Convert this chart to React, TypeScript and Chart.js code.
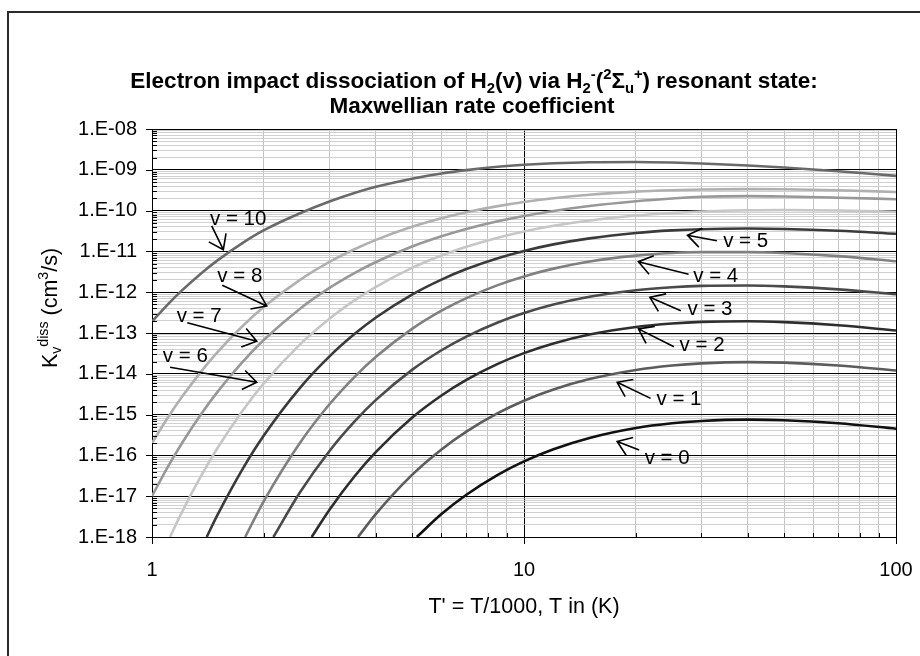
import { useEffect, useRef } from 'react';
import { Chart, registerables } from 'chart.js';

Chart.register(...registerables);

const FONT = '"Liberation Sans", Arial, Helvetica, sans-serif';

// ---- Data: T' (= T/1000) and Maxwellian rate coefficient K (cm^3/s) per vibrational level ----
const T_v0 = [5.15, 6, 7, 8.5, 10, 12, 15, 20, 25, 30, 40, 50, 70, 100];
const K_v0 = [1.0e-18, 3.65e-18, 1.084e-17, 3.34e-17, 7.13e-17, 1.416e-16, 2.68e-16, 4.69e-16, 6.12e-16, 6.98e-16, 7.53e-16, 7.29e-16, 6.15e-16, 4.51e-16];

const T_v1 = [3.58, 4, 5, 6, 7, 8.5, 10, 12, 15, 20, 25, 30, 40, 50, 70, 100];
const K_v1 = [1.0e-18, 3.69e-18, 3.33e-17, 1.403e-16, 3.84e-16, 1.084e-15, 2.19e-15, 4.12e-15, 7.43e-15, 1.245e-14, 1.596e-14, 1.8e-14, 1.93e-14, 1.875e-14, 1.6e-14, 1.2e-14];

const T_v2 = [2.687, 3, 3.5, 4, 5, 6, 7, 8.5, 10, 12, 15, 20, 25, 30, 40, 50, 70, 100];
const K_v2 = [1.0e-18, 4.67e-18, 3.04e-17, 1.225e-16, 8.38e-16, 2.94e-15, 7.1e-15, 1.75e-14, 3.21e-14, 5.53e-14, 9.14e-14, 1.406e-13, 1.714e-13, 1.875e-13, 1.941e-13, 1.845e-13, 1.545e-13, 1.148e-13];

const T_v3 = [2.12, 2.5, 3, 3.5, 4, 5, 6, 7, 8.5, 10, 12, 15, 20, 25, 30, 40, 50, 70, 100];
const K_v3 = [1.0e-18, 1.25e-17, 1.285e-16, 6.71e-16, 2.29e-15, 1.25e-14, 3.78e-14, 8.18e-14, 1.807e-13, 3.08e-13, 4.97e-13, 7.71e-13, 1.12e-12, 1.324e-12, 1.429e-12, 1.459e-12, 1.387e-12, 1.175e-12, 8.91e-13];

const T_v4 = [1.78, 2, 2.5, 3, 3.5, 4, 5, 6, 7, 8.5, 10, 12, 15, 20, 25, 30, 40, 50, 70, 100];
const K_v4 = [1.0e-18, 7.67e-18, 2.04e-16, 1.79e-15, 8.32e-15, 2.61e-14, 1.259e-13, 3.52e-13, 7.18e-13, 1.493e-12, 2.44e-12, 3.78e-12, 5.64e-12, 7.87e-12, 9.12e-12, 9.68e-12, 9.7e-12, 9.12e-12, 7.64e-12, 5.75e-12];

const T_v5 = [1.403, 1.5, 1.75, 2, 2.5, 3, 3.5, 4, 5, 6, 7, 8.5, 10, 12, 15, 20, 25, 30, 40, 50, 70, 100];
const K_v5 = [1.0e-18, 3.48e-18, 4.55e-17, 3.11e-16, 4.53e-15, 2.67e-14, 9.4e-14, 2.4e-13, 8.75e-13, 2.04e-12, 3.69e-12, 6.79e-12, 1.026e-11, 1.486e-11, 2.09e-11, 2.83e-11, 3.27e-11, 3.5e-11, 3.63e-11, 3.55e-11, 3.21e-11, 2.7e-11];

const T_v6 = [1.118, 1.2, 1.35, 1.5, 1.75, 2, 2.5, 3, 3.5, 4, 5, 6, 7, 8.5, 10, 12, 15, 20, 25, 30, 40, 50, 70, 100];
const K_v6 = [1.0e-18, 3.85e-18, 2.96e-17, 1.514e-16, 1.227e-15, 5.89e-15, 5.25e-14, 2.24e-13, 6.28e-13, 1.355e-12, 3.94e-12, 7.93e-12, 1.3e-11, 2.17e-11, 3.08e-11, 4.24e-11, 5.74e-11, 7.59e-11, 8.75e-11, 9.48e-11, 1.019e-10, 1.035e-10, 1.009e-10, 9.33e-11];

const T_v7 = [1, 1.1, 1.2, 1.35, 1.5, 1.75, 2, 2.5, 3, 3.5, 4, 5, 6, 7, 8.5, 10, 12, 15, 20, 25, 30, 40, 50, 70, 100];
const K_v7 = [1.007e-17, 5.01e-17, 1.905e-16, 9.77e-16, 3.61e-15, 1.93e-14, 6.81e-14, 3.95e-13, 1.276e-12, 2.94e-12, 5.5e-12, 1.315e-11, 2.35e-11, 3.55e-11, 5.47e-11, 7.38e-11, 9.79e-11, 1.291e-10, 1.69e-10, 1.977e-10, 2.18e-10, 2.26e-10, 2.21e-10, 2.07e-10, 1.905e-10];

const T_v8 = [1, 1.1, 1.2, 1.35, 1.5, 1.75, 2, 2.5, 3, 3.5, 4, 5, 6, 7, 8.5, 10, 12, 15, 20, 25, 30, 40, 50, 70, 100];
const K_v8 = [2.0e-16, 8.11e-16, 2.61e-15, 1.086e-14, 3.39e-14, 1.462e-13, 4.37e-13, 2.0e-12, 5.51e-12, 1.127e-11, 1.92e-11, 4.01e-11, 6.49e-11, 9.1e-11, 1.288e-10, 1.63e-10, 2.01e-10, 2.45e-10, 2.91e-10, 3.15e-10, 3.29e-10, 3.36e-10, 3.33e-10, 3.15e-10, 2.85e-10];

const T_v10 = [1, 1.1, 1.2, 1.35, 1.5, 1.75, 2, 2.5, 3, 3.5, 4, 5, 6, 7, 8.5, 10, 12, 15, 20, 25, 30, 40, 50, 70, 100];
const K_v10 = [1.905e-13, 4.91e-13, 1.076e-12, 2.81e-12, 6.03e-12, 1.6e-11, 3.31e-11, 8.6e-11, 1.67e-10, 2.7e-10, 3.82e-10, 6.05e-10, 8.1e-10, 9.8e-10, 1.183e-9, 1.324e-9, 1.445e-9, 1.535e-9, 1.556e-9, 1.507e-9, 1.432e-9, 1.279e-9, 1.14e-9, 9.23e-10, 7.08e-10];

const seriesNames = ['v = 0', 'v = 1', 'v = 2', 'v = 3', 'v = 4', 'v = 5', 'v = 6', 'v = 7', 'v = 8', 'v = 10'];
const seriesT = [T_v0, T_v1, T_v2, T_v3, T_v4, T_v5, T_v6, T_v7, T_v8, T_v10];
const seriesK = [K_v0, K_v1, K_v2, K_v3, K_v4, K_v5, K_v6, K_v7, K_v8, K_v10];
const seriesColors = ['#111111', '#5c5c5c', '#2e2e2e', '#4a4a4a', '#808080', '#3a3a3a', '#c6c6c6', '#989898', '#b0b0b0', '#6a6a6a'];

// ---- Axes ----
const xTickValues = [1, 2, 3, 4, 5, 6, 7, 8, 9, 10, 20, 30, 40, 50, 60, 70, 80, 90, 100];
const xLabelValues = [1, 10, 100];
const xTickLabels = ['1', '10', '100'];
const yDecades = [1e-18, 1e-17, 1e-16, 1e-15, 1e-14, 1e-13, 1e-12, 1e-11, 1e-10, 1e-9, 1e-8];
const yTickLabels = ['1.E-18', '1.E-17', '1.E-16', '1.E-15', '1.E-14', '1.E-13', '1.E-12', '1.E-11', '1.E-10', '1.E-09', '1.E-08'];
const yMinorMultiples = [2, 3, 4, 5, 6, 7, 8, 9];

// ---- Text ----
type Run = { t: string; s?: 'sub' | 'sup' };
const titleLine1: Run[] = [
  { t: 'Electron impact dissociation of H' }, { t: '2', s: 'sub' }, { t: '(v) via H' }, { t: '2', s: 'sub' },
  { t: '-', s: 'sup' }, { t: '(' }, { t: '2', s: 'sup' }, { t: 'Σ' }, { t: 'u', s: 'sub' }, { t: '+', s: 'sup' },
  { t: ') resonant state:' },
];
const titleLine2: Run[] = [{ t: 'Maxwellian rate coefficient' }];
const yTitle: Run[] = [{ t: 'K' }, { t: 'v', s: 'sub' }, { t: 'diss', s: 'sup' }, { t: ' (cm' }, { t: '3', s: 'sup' }, { t: '/s)' }];
const xTitle = "T' = T/1000, T in (K)";

// ---- Annotations (data coordinates) ----
const annLabels = ['v = 10', 'v = 8', 'v = 7', 'v = 6', 'v = 5', 'v = 4', 'v = 3', 'v = 2', 'v = 1', 'v = 0'];
const annTextT = [1.432, 1.498, 1.165, 1.069, 34.3, 28.5, 27.5, 26.2, 22.7, 21.1];
const annTextK = [6.1e-11, 2.4e-12, 2.5e-13, 2.75e-14, 1.74e-11, 2.4e-12, 3.8e-13, 5.1e-14, 2.3e-15, 8.5e-17];
const annFromT = [1.447, 1.545, 1.244, 1.118, 33.0, 27.7, 26.4, 25.3, 21.9, 20.4];
const annFromK = [4.2e-11, 1.48e-12, 1.78e-13, 1.45e-14, 1.82e-11, 2.75e-12, 3.5e-13, 4.6e-14, 2.5e-15, 1.35e-16];
const annTipT = [1.555, 2.034, 1.912, 1.912, 27.5, 20.3, 21.8, 20.3, 17.8, 17.8];
const annTipK = [1.1e-11, 4.6e-13, 6.3e-14, 6.2e-15, 2.5e-11, 5.6e-12, 7.5e-13, 1.26e-13, 6.2e-15, 2.2e-16];

const isDecade = (v: number) => {
  const l = Math.log10(v);
  return Math.abs(l - Math.round(l)) < 1e-9;
};

function drawRuns(ctx: CanvasRenderingContext2D, runs: Run[], cx: number, baseline: number, size: number, bold: boolean) {
  const font = (sz: number) => `${bold ? 'bold ' : ''}${sz}px ${FONT}`;
  let total = 0;
  const widths: number[] = [];
  for (const r of runs) {
    ctx.font = font(r.s ? size * 0.66 : size);
    const w = ctx.measureText(r.t).width;
    widths.push(w);
    total += w;
  }
  let x = cx - total / 2;
  ctx.textAlign = 'left';
  ctx.textBaseline = 'alphabetic';
  runs.forEach((r, i) => {
    ctx.font = font(r.s ? size * 0.66 : size);
    const dy = r.s === 'sub' ? size * 0.22 : r.s === 'sup' ? -size * 0.4 : 0;
    ctx.fillText(r.t, x, baseline + dy);
    x += widths[i];
  });
}

function drawArrow(ctx: CanvasRenderingContext2D, x0: number, y0: number, x1: number, y1: number) {
  const ang = Math.atan2(y0 - y1, x0 - x1);
  const L = 16.5;
  const a = 0.62;
  ctx.beginPath();
  ctx.moveTo(x0, y0);
  ctx.lineTo(x1, y1);
  ctx.moveTo(x1 + L * Math.cos(ang + a), y1 + L * Math.sin(ang + a));
  ctx.lineTo(x1, y1);
  ctx.lineTo(x1 + L * Math.cos(ang - a), y1 + L * Math.sin(ang - a));
  ctx.stroke();
}

const decorPlugin = {
  id: 'excelDecor',
  afterDraw(chart: any) {
    const ctx: CanvasRenderingContext2D = chart.ctx;
    const xs = chart.scales.x;
    const ys = chart.scales.y;
    const area = chart.chartArea;
    ctx.save();
    // tick marks
    ctx.strokeStyle = '#000';
    ctx.lineWidth = 1;
    ys.ticks.forEach((t: any) => {
      const py = Math.round(ys.getPixelForValue(t.value)) + 0.5;
      ctx.beginPath();
      if (isDecade(t.value)) {
        ctx.moveTo(area.left - 6, py);
        ctx.lineTo(area.left, py);
      } else {
        ctx.moveTo(area.left, py);
        ctx.lineTo(area.left + 5, py);
      }
      ctx.stroke();
    });
    xs.ticks.forEach((t: any) => {
      const px = Math.round(xs.getPixelForValue(t.value)) + 0.5;
      ctx.beginPath();
      if (isDecade(t.value)) {
        ctx.moveTo(px, area.bottom);
        ctx.lineTo(px, area.bottom + 7);
      } else {
        ctx.moveTo(px, area.bottom);
        ctx.lineTo(px, area.bottom - 4);
      }
      ctx.stroke();
    });

    // annotations
    ctx.fillStyle = '#000';
    ctx.strokeStyle = '#000';
    ctx.lineWidth = 1.6;
    ctx.lineJoin = 'miter';
    annLabels.forEach((lab, i) => {
      const tx = xs.getPixelForValue(annTextT[i]);
      const ty = ys.getPixelForValue(annTextK[i]);
      const fx = xs.getPixelForValue(annFromT[i]);
      const fy = ys.getPixelForValue(annFromK[i]);
      const px = xs.getPixelForValue(annTipT[i]);
      const py = ys.getPixelForValue(annTipK[i]);
      drawArrow(ctx, fx, fy, px, py);
      ctx.font = `20.5px ${FONT}`;
      ctx.textAlign = 'left';
      ctx.textBaseline = 'middle';
      ctx.fillText(lab, tx, ty);
    });

    // titles
    const cx = (area.left + area.right) / 2;
    ctx.fillStyle = '#000';
    drawRuns(ctx, titleLine1, 474, 88, 22.5, true);
    drawRuns(ctx, titleLine2, 472, 113, 22.5, true);
    ctx.font = `21.5px ${FONT}`;
    ctx.textAlign = 'center';
    ctx.textBaseline = 'middle';
    ctx.fillText(xTitle, cx, 607);
    ctx.save();
    ctx.translate(49, 308);
    ctx.rotate(-Math.PI / 2);
    drawRuns(ctx, yTitle, 0, 7.5, 21.5, false);
    ctx.restore();

    // chart frame (left & top edges visible)
    ctx.fillStyle = '#2a2a2a';
    ctx.fillRect(7, 11, 2, 660);
    ctx.fillRect(7, 11, 930, 2);
    ctx.restore();
  },
};

export default function App() {
  const ref = useRef<HTMLCanvasElement | null>(null);
  useEffect(() => {
    if (!ref.current) return;
    const datasets = seriesNames.map((name, i) => ({
      label: name,
      data: seriesT[i].map((t, j) => ({ x: t, y: seriesK[i][j] })),
      borderColor: seriesColors[i],
      backgroundColor: seriesColors[i],
      borderWidth: 2.6,
      pointRadius: 0,
      fill: false,
      cubicInterpolationMode: 'monotone' as const,
    }));
    const chart = new Chart(ref.current, {
      type: 'line',
      data: { datasets },
      plugins: [decorPlugin],
      options: {
        responsive: false,
        animation: false,
        devicePixelRatio: 1,
        events: [],
        layout: { padding: { top: 129, right: 24, left: 0, bottom: 0 } },
        plugins: { legend: { display: false }, tooltip: { enabled: false }, title: { display: false } },
        scales: {
          x: {
            type: 'logarithmic',
            position: 'bottom',
            min: 1,
            max: 100,
            afterBuildTicks: (s: any) => {
              s.ticks = xTickValues.map((v) => ({ value: v }));
            },
            afterFit: (s: any) => {
              s.height = 119;
            },
            ticks: {
              autoSkip: false,
              maxRotation: 0,
              padding: 3,
              color: '#000',
              font: { family: FONT, size: 20 },
              callback: (v: any) => {
                const i = xLabelValues.indexOf(Number(v));
                return i >= 0 ? xTickLabels[i] : '';
              },
            },
            grid: {
              drawTicks: true,
              tickLength: 18,
              tickColor: 'rgba(0,0,0,0)',
              lineWidth: 1,
              color: (c: any) => (c.tick && isDecade(c.tick.value) ? '#000000' : '#c2c2c2'),
            },
            border: { display: true, color: '#000', width: 1 },
          },
          y: {
            type: 'logarithmic',
            position: 'left',
            min: 1e-18,
            max: 1e-8,
            afterBuildTicks: (s: any) => {
              const ticks: { value: number }[] = [];
              yDecades.forEach((d, i) => {
                ticks.push({ value: d });
                if (i < yDecades.length - 1) yMinorMultiples.forEach((m) => ticks.push({ value: m * d }));
              });
              s.ticks = ticks;
            },
            afterFit: (s: any) => {
              s.width = 152;
            },
            ticks: {
              autoSkip: false,
              padding: 3,
              color: '#000',
              font: { family: FONT, size: 20 },
              callback: (v: any) => {
                const n = Number(v);
                const i = yDecades.findIndex((d) => Math.abs(d - n) / d < 1e-6);
                return i >= 0 ? yTickLabels[i] : '';
              },
            },
            grid: {
              drawTicks: true,
              tickLength: 12,
              tickColor: 'rgba(0,0,0,0)',
              lineWidth: 1,
              color: (c: any) => (c.tick && isDecade(c.tick.value) ? '#000000' : '#d0d0d0'),
            },
            border: { display: true, color: '#000', width: 1 },
          },
        },
      },
    });
    return () => chart.destroy();
  }, []);
  return (
    <div style={{ position: 'absolute', left: 0, top: 0, width: 920, height: 656, background: '#fff' }}>
      <canvas ref={ref} width={920} height={656} style={{ display: 'block' }} />
    </div>
  );
}
